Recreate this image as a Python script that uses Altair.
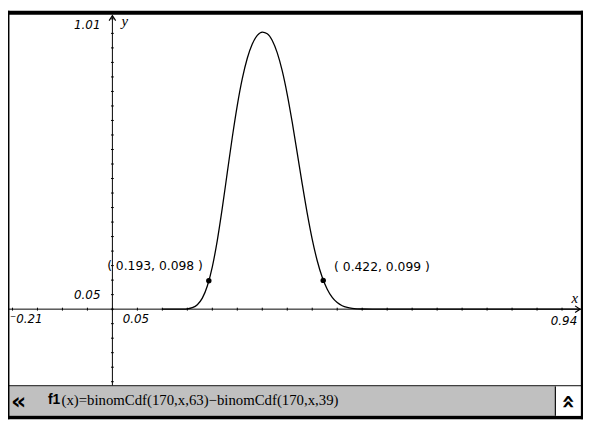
import altair as alt
import pandas as pd

# ---------------- data ----------------
curve_x = [0.10, 0.12, 0.13, 0.14, 0.15, 0.16, 0.17, 0.18, 0.19, 0.20,
           0.21, 0.22, 0.23, 0.24, 0.25, 0.26, 0.27, 0.28, 0.29, 0.30,
           0.31, 0.32, 0.33, 0.34, 0.35, 0.36, 0.37, 0.38, 0.39, 0.40,
           0.41, 0.42, 0.43, 0.44, 0.45, 0.46, 0.47, 0.48, 0.49, 0.50,
           0.52, 0.55, 0.94]
curve_y = [0.0, 0.0, 0.0, 0.0003, 0.0013, 0.0050, 0.0152, 0.0378, 0.0796, 0.1458,
           0.2371, 0.3487, 0.4709, 0.5923, 0.7023, 0.7940, 0.8644, 0.9135, 0.9430, 0.9547,
           0.9490, 0.9256, 0.8829, 0.8207, 0.7394, 0.6431, 0.5378, 0.4310, 0.3299, 0.2405,
           0.1668, 0.1098, 0.0685, 0.0404, 0.0225, 0.0118, 0.0059, 0.0027, 0.0012, 0.0005,
           0.0001, 0.0, 0.0]
point_x = [0.193, 0.422]
point_y = [0.098, 0.099]
point_text = ["( 0.193, 0.098 )", "( 0.422, 0.099 )"]
x_ticks = [round(-0.20 + 0.05 * i, 2) for i in range(23)]
y_ticks = [round(-0.25 + 0.05 * i, 2) for i in range(26)]
formula = "(x)=binomCdf(170,x,63)\u2212binomCdf(170,x,39)"

# ---------------- geometry ----------------
W, H = 583, 414
SX, SY = W / 591, H / 422
XMIN, XMAX = -107.3 / 513.5, (591 - 107.3) / 513.5
YMIN, YMAX = -(422 - 308.3) / 300, 308.3 / 300
X_AX_END = 0.936
Y_AX_TOP = 1.011
Y_AX_BOT = -0.263


def px(v):
    return v * SX


def py(v):
    return v * SY


xs = alt.Scale(domain=[XMIN, XMAX], nice=False, zero=False)
ys = alt.Scale(domain=[YMIN, YMAX], nice=False, zero=False)
one = pd.DataFrame({"k": [0]})


def X(field):
    return alt.X(field, type="quantitative", scale=xs, axis=None)


def Y(field):
    return alt.Y(field, type="quantitative", scale=ys, axis=None)


layers = []

# axes lines
axes_df = pd.DataFrame({"x": [XMIN, 0.0], "x2": [X_AX_END, 0.0],
                        "y": [0.0, Y_AX_BOT], "y2": [0.0, Y_AX_TOP]})
layers.append(alt.Chart(axes_df).mark_rule(color="black", strokeWidth=1).encode(
    x=X("x"), x2="x2", y=Y("y"), y2="y2"))

# ticks
xt = pd.DataFrame({"x": x_ticks, "y": [-0.005] * len(x_ticks), "y2": [0.005] * len(x_ticks)})
layers.append(alt.Chart(xt).mark_rule(color="black", strokeWidth=1).encode(
    x=X("x"), y=Y("y"), y2="y2"))
yt = pd.DataFrame({"y": y_ticks, "x": [-0.0028] * len(y_ticks), "x2": [0.0028] * len(y_ticks)})
layers.append(alt.Chart(yt).mark_rule(color="black", strokeWidth=1).encode(
    y=Y("y"), x=X("x"), x2="x2"))

# arrows
arr = pd.DataFrame({"x": [0.0], "y": [Y_AX_TOP]})
layers.append(alt.Chart(arr).mark_point(shape="M-1,1.5L0,0L1,1.5", size=44, filled=False,
                                        color="black", strokeWidth=1.2, opacity=1).encode(
    x=X("x"), y=Y("y")))
arr2 = pd.DataFrame({"x": [X_AX_END], "y": [0.0]})
layers.append(alt.Chart(arr2).mark_point(shape="M-1.5,-1L0,0L-1.5,1", size=44, filled=False,
                                         color="black", strokeWidth=1.2, opacity=1).encode(
    x=X("x"), y=Y("y")))

# curve
cdf = pd.DataFrame({"x": curve_x, "y": curve_y})
layers.append(alt.Chart(cdf).mark_line(color="black", strokeWidth=1.3, interpolate="monotone").encode(
    x=X("x"), y=Y("y")))

# points and their labels
pdf = pd.DataFrame({"x": point_x, "y": point_y, "t": point_text})
layers.append(alt.Chart(pdf).mark_circle(color="black", size=30, opacity=1).encode(
    x=X("x"), y=Y("y")))
layers.append(alt.Chart(pdf.iloc[[0]]).mark_text(
    align="right", baseline="middle", dx=-6, dy=-15, font="DejaVu Sans", fontSize=12.5,
    color="black").encode(x=X("x"), y=Y("y"), text="t:N"))
layers.append(alt.Chart(pdf.iloc[[1]]).mark_text(
    align="left", baseline="middle", dx=11, dy=-13.5, font="DejaVu Sans", fontSize=12.5,
    color="black").encode(x=X("x"), y=Y("y"), text="t:N"))


def txt(s, x, y, align="left", size=12, font="DejaVu Sans", style="italic", weight="normal",
        angle=0, color="black"):
    return alt.Chart(one).mark_text(align=align, baseline="middle", font=font, fontSize=size,
                                    fontStyle=style, fontWeight=weight, angle=angle,
                                    color=color).encode(
        x=alt.value(px(x)), y=alt.value(py(y)), text=alt.value(s))


# axis end labels
layers.append(txt("1.01", 95, 15, align="right"))
layers.append(txt("0.05", 95, 294, align="right"))
layers.append(txt("\u207b0.21", 2, 319, align="left"))
layers.append(txt("0.05", 118, 319, align="left"))
layers.append(txt("0.94", 585, 321, align="right"))
layers.append(txt("y", 120, 10.5, align="center", size=15, font="Liberation Serif"))
layers.append(txt("x", 582.5, 297, align="center", size=15, font="Liberation Serif"))


def rect(x1, x2, y1, y2, color):
    return alt.Chart(one).mark_rect(color=color, opacity=1).encode(
        x=alt.value(px(x1)), x2=alt.value(px(x2)), y=alt.value(py(y1)), y2=alt.value(py(y2)))


# frame and bottom bar
layers.append(rect(0, 591, 0, 4, "black"))
layers.append(rect(0, 591, 387, 388.3, "black"))
layers.append(rect(0, 591, 388.3, 418.5, "#c0c0c0"))
layers.append(rect(0, 591, 418.5, 422, "black"))
layers.append(rect(562, 563.2, 388.3, 418.5, "black"))
layers.append(rect(563.2, 589, 388.3, 418.5, "white"))
layers.append(rect(0, 1.5, 0, 422, "black"))
layers.append(rect(588.8, 591, 0, 422, "black"))

layers.append(txt("\u00ab", 11, 404.5, align="center", size=24, style="normal", weight="bold"))
layers.append(txt("\u00bb", 575.5, 404, align="center", size=24, style="normal", weight="bold",
                  angle=270))
layers.append(txt("f1", 41, 402.5, align="left", size=14, font="Liberation Sans", style="normal",
                  weight="bold"))
layers.append(txt(formula, 55, 402.5, align="left", size=15, font="Liberation Serif",
                  style="normal"))

chart = alt.layer(*layers).properties(
    width=W, height=H, padding=0, background="white",
    autosize=alt.AutoSizeParams(type="none")
).configure_view(strokeWidth=0)

chart.save("out.html", embed_options={"renderer": "svg", "actions": False})
